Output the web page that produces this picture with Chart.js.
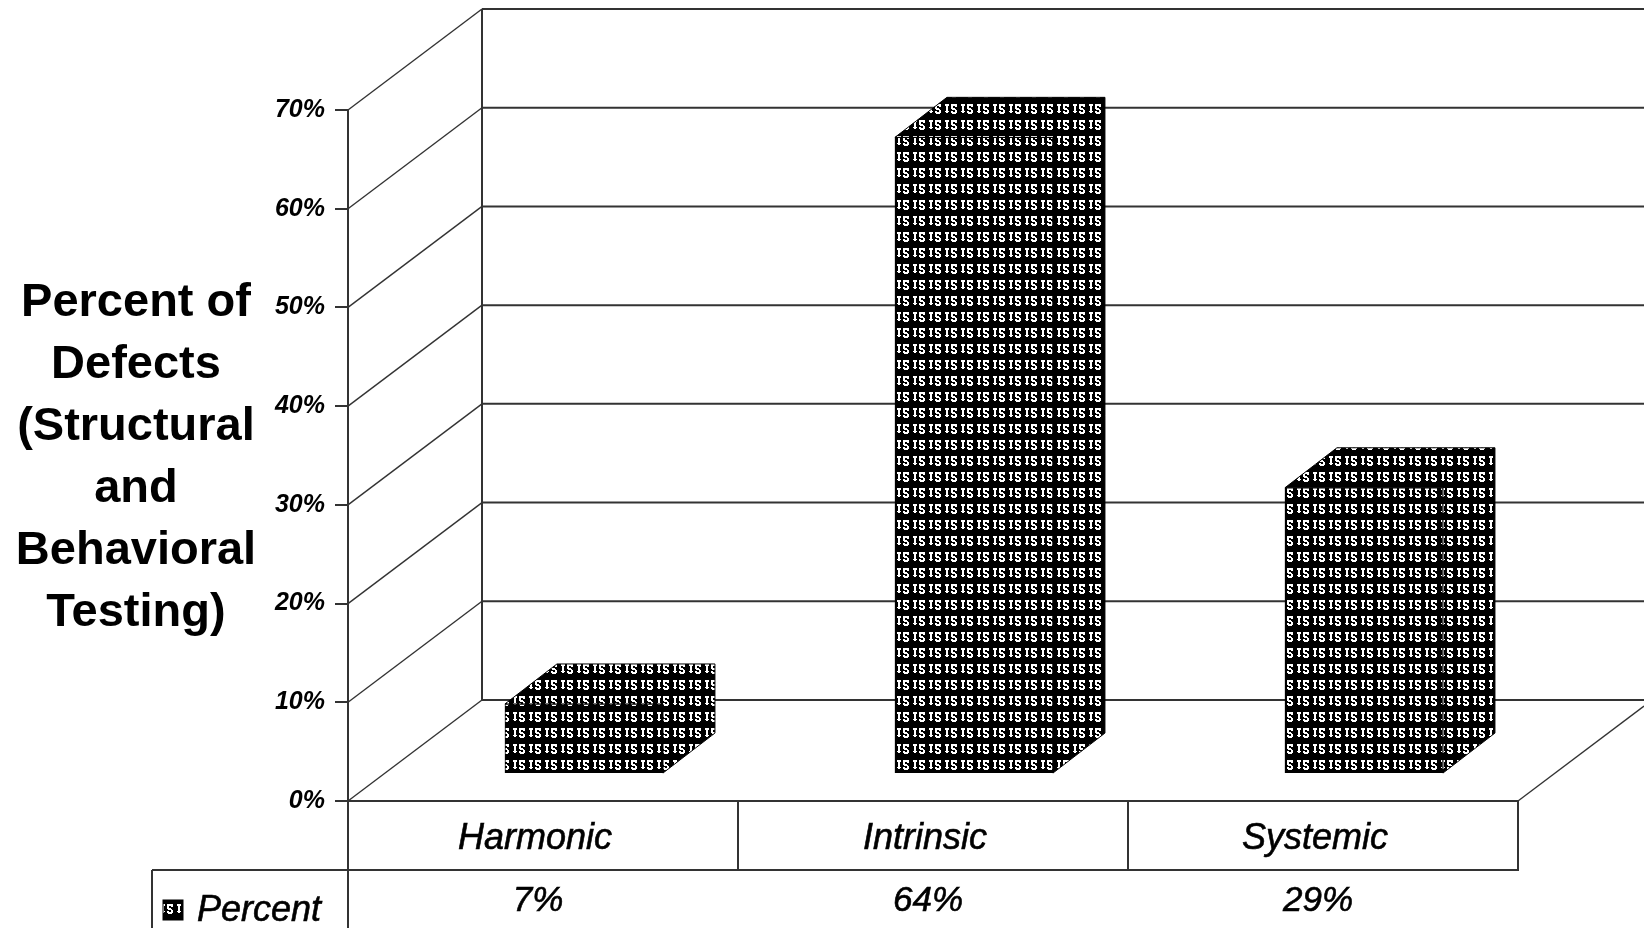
<!DOCTYPE html>
<html>
<head>
<meta charset="utf-8">
<title>Percent of Defects</title>
<script src="https://cdn.jsdelivr.net/npm/chart.js@4"></script>
<style>
  html, body { margin: 0; padding: 0; background: #fff; }
  canvas { display: block; }
</style>
</head>
<body>
<canvas id="defects" width="1644" height="928"></canvas>
<script>
// Data
const categories = ["Harmonic", "Intrinsic", "Systemic"];
const percent = [7, 64.4, 28.9];
const percentLabels = ["7%", "64%", "29%"];
const yTickLabels = ["0%", "10%", "20%", "30%", "40%", "50%", "60%", "70%"];
const yTickValues = [0, 10, 20, 30, 40, 50, 60, 70];
const titleLines = ["Percent of", "Defects", "(Structural", "and", "Behavioral", "Testing)"];
const seriesName = "Percent";

const LINE = "#333";
const WALL_DX = 134, WALL_DY = 101;   // depth of the back wall
const BAR_DX = 52, BAR_DY = 40;       // depth of each column

// the fill pattern, 1 = white
const tileRows = [
  "0000000000000000",
  "0000000000000000",
  "0000000000000000",
  "0111100111111000",
  "0111100111111000",
  "0011000110011000",
  "0011000110000000",
  "0011000111100000",
  "0011000011110000",
  "0011000000011000",
  "0111100110011000",
  "0011000111111000",
  "0000000011110000",
  "0000000000000000",
  "0000000000000000",
  "0000000000000000"
];

function makePattern(ctx) {
  const tile = document.createElement("canvas");
  tile.width = 16;
  tile.height = 16;
  const t = tile.getContext("2d");
  t.fillStyle = "#000";
  t.fillRect(0, 0, 16, 16);
  t.fillStyle = "#fff";
  tileRows.forEach((row, y) => {
    for (let x = 0; x < row.length; x++) {
      if (row[x] === "1") t.fillRect(x, y, 1, 1);
    }
  });
  const p = ctx.createPattern(tile, "repeat");
  p.setTransform(new DOMMatrix([1, 0, 0, 1, 0, 5]));
  return p;
}

function line(ctx, x1, y1, x2, y2) {
  ctx.beginPath();
  ctx.moveTo(x1, y1);
  ctx.lineTo(x2, y2);
  ctx.stroke();
}

const ctx = document.getElementById("defects").getContext("2d");
const pattern = makePattern(ctx);

// back wall, left wall and floor behind the columns
const wallPlugin = {
  id: "wall",
  beforeDatasetsDraw(chart) {
    const c = chart.ctx, y = chart.scales.y, a = chart.chartArea;
    c.save();
    c.strokeStyle = LINE;
    c.lineWidth = 2;
    const ticks = yTickValues.concat([80]);
    ticks.forEach(v => {
      const py = y.getPixelForValue(v);
      line(c, a.left + WALL_DX, py - WALL_DY, chart.width, py - WALL_DY);
    });
    line(c, a.left + WALL_DX, y.getPixelForValue(0) - WALL_DY, a.left + WALL_DX, y.getPixelForValue(70) - WALL_DY);
    c.lineWidth = 1.4;
    yTickValues.forEach(v => {
      const py = y.getPixelForValue(v);
      line(c, a.left, py, a.left + WALL_DX, py - WALL_DY);
    });
    line(c, a.right, y.getPixelForValue(0), chart.width, y.getPixelForValue(0) - (chart.width - a.right) * WALL_DY / WALL_DX);
    c.restore();

    // top and side of the columns
    c.save();
    c.fillStyle = pattern;
    c.strokeStyle = "#000";
    c.lineWidth = 1;
    chart.getDatasetMeta(0).data.forEach(bar => {
      const l = bar.x - bar.width / 2, r = bar.x + bar.width / 2;
      c.beginPath();
      c.moveTo(l, bar.y);
      c.lineTo(l + BAR_DX, bar.y - BAR_DY);
      c.lineTo(r + BAR_DX, bar.y - BAR_DY);
      c.lineTo(r + BAR_DX, bar.base - BAR_DY);
      c.lineTo(r, bar.base);
      c.lineTo(r, bar.y);
      c.closePath();
      c.fill();
      c.stroke();
    });
    c.restore();
  },
  afterDraw(chart) {
    const c = chart.ctx, x = chart.scales.x, a = chart.chartArea;
    c.save();
    c.fillStyle = "#000";
    c.textAlign = "center";
    c.textBaseline = "middle";

    // axis title
    c.font = "bold 47px 'Liberation Sans'";
    titleLines.forEach((t, i) => c.fillText(t, 136, 303 + i * 62));

    // data table row
    c.strokeStyle = LINE;
    c.lineWidth = 2;
    line(c, 152, 870, a.right, 870);
    line(c, 152, 870, 152, chart.height);
    line(c, a.left, 800, a.left, chart.height);
    c.font = "italic 35px 'Liberation Sans'";
    c.lineWidth = 0.6;
    c.strokeStyle = "#000";
    percentLabels.forEach((t, i) => {
      c.fillText(t, x.getPixelForTick(i) - 5, 901);
      c.strokeText(t, x.getPixelForTick(i) - 5, 901);
    });
    c.textAlign = "left";
    c.font = "italic 36px 'Liberation Sans'";
    c.fillText(seriesName, 197, 911);
    c.strokeText(seriesName, 197, 911);
    c.fillStyle = pattern;
    c.fillRect(163, 900, 20, 20);
    c.lineWidth = 1;
    c.strokeRect(163, 900, 20, 20);
    c.restore();
  }
};

new Chart(ctx, {
  data: {
    labels: categories,
    datasets: [{
      type: "bar",
      label: seriesName,
      data: percent.map((v, i) => ({ x: i, y: v })),
      xAxisID: "barX",
      yAxisID: "barY",
      backgroundColor: pattern,
      borderColor: "#000",
      borderWidth: 1,
      barThickness: 158
    }]
  },
  options: {
    responsive: false,
    animation: false,
    layout: { padding: { top: 110, right: 126, left: 0, bottom: 0 } },
    plugins: {
      legend: { display: false },
      tooltip: { enabled: false },
      title: { display: false }
    },
    scales: {
      x: {
        type: "category",
        labels: categories,
        offset: true,
        border: { color: LINE, width: 2 },
        grid: { offset: true, drawOnChartArea: false, color: LINE, lineWidth: 2, tickLength: 70 },
        ticks: {
          color: "#000",
          maxRotation: 0,
          padding: -54,
          labelOffset: -8,
          textStrokeColor: "#000",
          textStrokeWidth: 0.6,
          font: { family: "'Liberation Sans'", size: 36, style: "italic" }
        },
        afterFit: s => { s.height = 127; }
      },
      y: {
        type: "linear",
        position: "left",
        min: 0,
        max: 70,
        border: { color: LINE, width: 2 },
        grid: { drawOnChartArea: false, color: LINE, lineWidth: 2, tickLength: 13 },
        ticks: {
          stepSize: 10,
          color: "#000",
          padding: 10,
          callback: (v, i) => yTickLabels[i],
          font: { family: "'Liberation Sans Narrow', 'Liberation Sans'", size: 25, style: "italic", weight: "bold" }
        },
        afterFit: s => { s.width = 348; }
      },
      // the columns stand a little inside the floor, so they get their own hidden scales
      barX: { type: "linear", display: false, offset: false, min: -0.605, max: 2.395 },
      barY: { type: "linear", display: false, min: -2.83, max: 67.17 }
    }
  },
  plugins: [wallPlugin]
});
</script>
</body>
</html>
